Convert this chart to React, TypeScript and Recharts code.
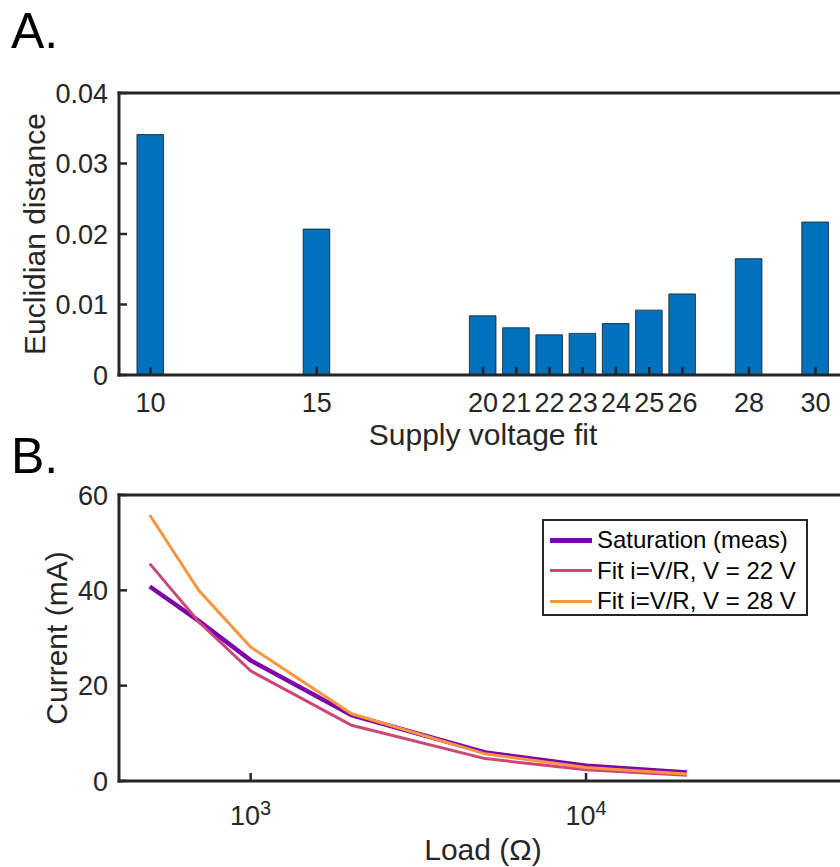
import { Bar, BarChart, Legend, Line, LineChart, XAxis, YAxis } from "recharts";

// panel A: fit quality per supply voltage
const voltages = [10, 15, 20, 21, 22, 23, 24, 25, 26, 28, 30];
const distances = [0.0341, 0.0207, 0.0084, 0.0067, 0.0057, 0.0059, 0.0073, 0.0092, 0.0115, 0.0165, 0.0217];
const distanceTicks = [0, 0.01, 0.02, 0.03, 0.04];

// panel B: current vs load
const loads = [500, 700, 1000, 2000, 5000, 10000, 20000];
const saturation = [40.8, 33.6, 25.3, 13.8, 6.0, 3.2, 1.8];
const fit22 = [45.6, 33.4, 23.1, 11.7, 4.7, 2.35, 1.2];
const fit28 = [55.8, 40.0, 28.1, 14.1, 5.7, 2.85, 1.45];
const currentTicks = [0, 20, 40, 60];
const loadTicks = [500, 600, 700, 800, 900, 1000, 2000, 3000, 4000, 5000, 6000, 7000, 8000, 9000, 10000, 20000, 30000, 40000, 50000];
const loadDecades = [1000, 10000];

const ink = "#262626";
const font = '"Liberation Sans", Arial, Helvetica, sans-serif';
const spine = { stroke: ink, strokeWidth: 3, strokeLinecap: "square" as const };
const tickLine = { stroke: ink, strokeWidth: 2.5 };
const tickText = { fontSize: 27, fill: ink, fontFamily: font };
const voltDomain = [9.05, 30.95];
const loadDomain = [405, 60000];

const barData = voltages.map((v, i) => ({ voltage: v, distance: distances[i] }));
const lineData = loads.map((r, i) => ({ load: r, sat: saturation[i], v22: fit22[i], v28: fit28[i] }));

const series = [
  { key: "sat", name: "Saturation (meas)", color: "#7E03A8", width: 4.5 },
  { key: "v22", name: "Fit i=V/R, V = 22 V", color: "#CC4778", width: 3 },
  { key: "v28", name: "Fit i=V/R, V = 28 V", color: "#F89540", width: 3 },
];

const fmtDistance = (v: number) => (v === 0 ? "0" : v.toFixed(2));

// 10^n label under the log axis; p.y is the tick text anchor
function DecadeTick(p: any) {
  return (
    <text x={p.x} y={p.y + 52} textAnchor="middle" fontSize={27} fill={ink} fontFamily={font}>
      <tspan>10</tspan>
      <tspan dy={-10} fontSize={20}>{String(p.payload.value).length - 1}</tspan>
    </text>
  );
}

function BottomTitle({ viewBox, text, baseline }: any) {
  const { x, y, width } = viewBox;
  return (
    <text x={x + width / 2} y={y + baseline} textAnchor="middle" fontSize={30} fill={ink} fontFamily={font}>
      {text}
    </text>
  );
}

function LeftTitle({ viewBox, text, baseline }: any) {
  const cx = viewBox.x + baseline;
  const cy = viewBox.y + viewBox.height / 2;
  return (
    <text x={cx} y={cy} transform={`rotate(-90 ${cx} ${cy})`} textAnchor="middle" fontSize={30} fill={ink} fontFamily={font}>
      {text}
    </text>
  );
}

function LegendBox({ payload }: any) {
  const items = series.map((s) => ({ s, item: (payload || []).find((it: any) => it.dataKey === s.key) }));
  return (
    <div
      style={{
        border: `2px solid ${ink}`,
        background: "#fff",
        boxSizing: "border-box",
        width: 266,
        height: 97,
        padding: "4px 0 0 6px",
        fontFamily: font,
        fontSize: 24,
        color: "#000",
      }}
    >
      {items.map(({ s, item }) => (
        <div key={s.key} style={{ display: "flex", alignItems: "center", height: 30.5, whiteSpace: "nowrap" }}>
          <span style={{ display: "inline-block", width: 42, height: s.width, background: item ? item.color : s.color, marginRight: 5 }} />
          <span>{item ? item.value : s.name}</span>
        </div>
      ))}
    </div>
  );
}

const panelLetter = (top: number): React.CSSProperties => ({
  position: "absolute",
  left: 11,
  top,
  fontSize: 50,
  lineHeight: "50px",
  fontFamily: font,
  color: "#000",
});

// shared props for the tick-only box sides (top / right); negative tickSize points ticks inward
const boxSide = { tickLine, axisLine: spine, tick: false, interval: 0 as const, allowDataOverflow: true };

export default function App() {
  return (
    <div style={{ position: "absolute", left: 0, top: 0, width: 840, height: 867, overflow: "hidden", background: "#fff" }}>
      <div style={panelLetter(6)}>A.</div>
      <div style={{ position: "absolute", left: 0, top: 0 }}>
        <BarChart width={880} height={460} data={barData} margin={{ top: 0, right: 0, bottom: 0, left: 0 }}>
          <Bar dataKey="distance" fill="#0072BD" stroke="#1a1a1a" strokeWidth={0.8} barSize={26.6} isAnimationActive={false} />
          <XAxis
            dataKey="voltage"
            type="number"
            domain={voltDomain}
            allowDataOverflow
            ticks={voltages}
            interval={0}
            height={85}
            tickSize={-8}
            tickMargin={26}
            tickLine={tickLine}
            axisLine={spine}
            tick={tickText}
            label={<BottomTitle text="Supply voltage fit" baseline={70} />}
          />
          <XAxis xAxisId="top" orientation="top" type="number" domain={voltDomain} ticks={voltages} height={93} tickSize={-8} {...boxSide} />
          <YAxis
            domain={[0, 0.04]}
            allowDataOverflow
            ticks={distanceTicks}
            interval={0}
            width={119}
            tickSize={-8}
            tickMargin={19}
            tickLine={tickLine}
            axisLine={spine}
            tick={tickText}
            tickFormatter={fmtDistance}
            label={<LeftTitle text="Euclidian distance" baseline={45} />}
          />
          <YAxis yAxisId="right" orientation="right" domain={[0, 0.04]} ticks={distanceTicks} width={33} tickSize={-8} {...boxSide} />
        </BarChart>
      </div>

      <div style={panelLetter(431)}>B.</div>
      <div style={{ position: "absolute", left: 0, top: 460 }}>
        <LineChart width={880} height={407} data={lineData} margin={{ top: 0, right: 0, bottom: 0, left: 0 }}>
          {series.map((s) => (
            <Line
              key={s.key}
              type="linear"
              dataKey={s.key}
              name={s.name}
              stroke={s.color}
              strokeWidth={s.width}
              dot={false}
              isAnimationActive={false}
            />
          ))}
          <XAxis xAxisId="minor" type="number" scale="log" domain={loadDomain} ticks={loadTicks} height={0} tickSize={-5} {...boxSide} axisLine={false} />
          <XAxis xAxisId="topMajor" orientation="top" type="number" scale="log" domain={loadDomain} ticks={loadDecades} height={0} tickSize={-8} {...boxSide} axisLine={false} />
          <XAxis
            dataKey="load"
            type="number"
            scale="log"
            domain={loadDomain}
            allowDataOverflow
            ticks={loadDecades}
            interval={0}
            height={86}
            tickSize={-8}
            tickMargin={0}
            tickLine={tickLine}
            axisLine={spine}
            tick={(p: any) => <DecadeTick {...p} />}
            label={<BottomTitle text="Load (Ω)" baseline={79} />}
          />
          <XAxis xAxisId="top" orientation="top" type="number" scale="log" domain={loadDomain} ticks={loadTicks} height={35} tickSize={-5} {...boxSide} />
          <YAxis
            domain={[0, 60]}
            allowDataOverflow
            ticks={currentTicks}
            interval={0}
            width={119}
            tickSize={-8}
            tickMargin={19}
            tickLine={tickLine}
            axisLine={spine}
            tick={tickText}
            label={<LeftTitle text="Current (mA)" baseline={67} />}
          />
          <YAxis yAxisId="right" orientation="right" domain={[0, 60]} ticks={currentTicks} width={33} tickSize={-8} {...boxSide} />
          <Legend
            layout="horizontal"
            align="center"
            verticalAlign="middle"
            wrapperStyle={{ left: 542, top: 59, width: 266 }}
            content={(p: any) => <LegendBox {...p} />}
          />
        </LineChart>
      </div>
    </div>
  );
}
